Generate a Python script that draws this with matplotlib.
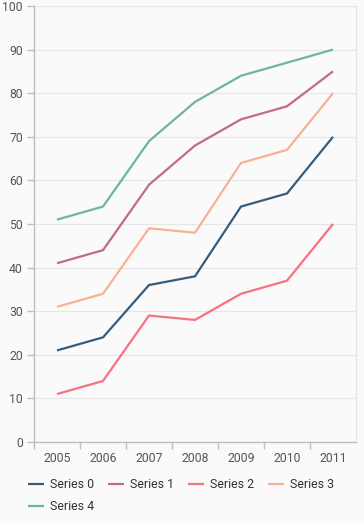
import matplotlib.pyplot as plt

plt.rcParams['font.family'] = ['Roboto', 'DejaVu Sans']

years = ['2005', '2006', '2007', '2008', '2009', '2010', '2011']
series0 = [21, 24, 36, 38, 54, 57, 70]
series1 = [41, 44, 59, 68, 74, 77, 85]
series2 = [11, 14, 29, 28, 34, 37, 50]
series3 = [31, 34, 49, 48, 64, 67, 80]
series4 = [51, 54, 69, 78, 84, 87, 90]
names = ['Series 0', 'Series 1', 'Series 2', 'Series 3', 'Series 4']
colors = ['#355C7D', '#C06C84', '#F67280', '#F8B195', '#6CB69A']

bg = '#FAFAFA'
fig = plt.figure(figsize=(3.64, 5.23), dpi=100, facecolor=bg)
ax = fig.add_axes([34/364, 1 - 442/523, 322/364, 436/523], facecolor=bg)

x = list(range(len(years)))
lines = []
for vals, name, c in zip([series0, series1, series2, series3, series4], names, colors):
    ln, = ax.plot(x, vals, color=c, lw=1.6, label=name, solid_capstyle='butt')
    lines.append(ln)

ax.set_xlim(-0.5, 6.5)
ax.set_ylim(0, 100)
ax.set_yticks(range(0, 101, 10))
ax.yaxis.grid(True, color='#E6E6E6', lw=0.8)
ax.set_axisbelow(True)

# category labels centered, ticks on band edges
ax.set_xticks([i - 0.5 for i in range(len(years))])
ax.set_xticklabels([])
ax.set_xticks(x, minor=True)
ax.set_xticklabels(years, minor=True)
ax.tick_params(axis='x', which='minor', length=0, pad=7, labelsize=8.8, labelcolor='#555555')
ax.tick_params(axis='x', which='major', length=5, color='#BDBDBD', width=1)
ax.tick_params(axis='y', length=5, color='#BDBDBD', width=1, labelsize=8.8,
               labelcolor='#555555', pad=3)

for s in ['left', 'bottom']:
    ax.spines[s].set_color('#BDBDBD')
    ax.spines[s].set_linewidth(1)
ax.spines['right'].set_color('#E6E6E6')
ax.spines['top'].set_visible(False)

order = [0, 4, 1, 2, 3]
leg = fig.legend([lines[i] for i in order], [names[i] for i in order],
                 ncol=4, loc='upper left', bbox_to_anchor=(17/364, 1 - 467/523),
                 frameon=False, fontsize=8.9, handlelength=1.3, handletextpad=0.5,
                 columnspacing=1.1, labelspacing=0.75, labelcolor='#333333')

fig.savefig('out.png', dpi=100, facecolor=bg)
